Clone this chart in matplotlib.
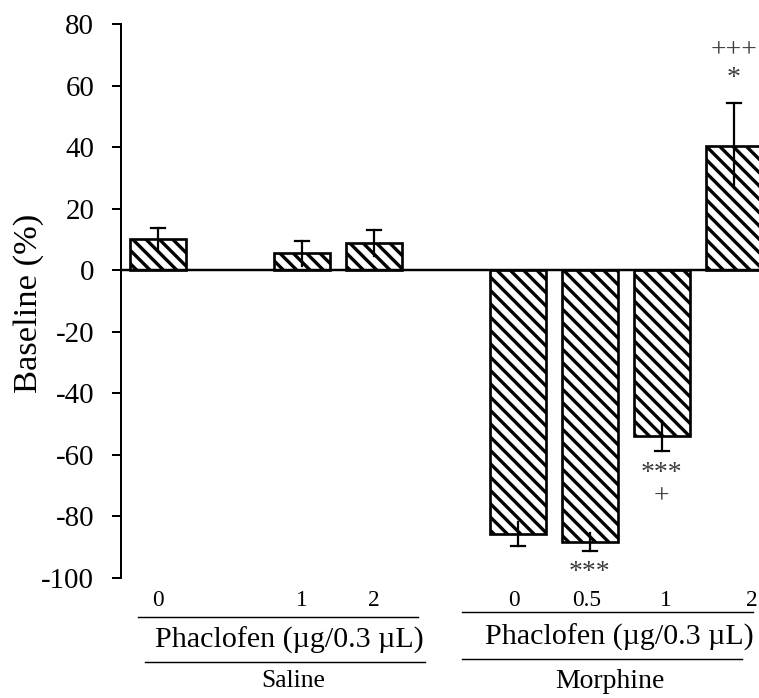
import matplotlib
matplotlib.use("Agg")
import matplotlib.pyplot as plt
from matplotlib.lines import Line2D

plt.rcParams['font.family'] = ['Liberation Serif', 'DejaVu Serif']
plt.rcParams['hatch.linewidth'] = 3.0

# Data
positions = [0, 2, 3, 5, 6, 7, 8]
values = [10.2, 5.5, 8.9, -85.7, -88.3, -53.8, 40.4]
errors = [3.6, 4.1, 4.2, 3.9, 2.8, 4.9, 13.8]
dose_labels = ['0', '1', '2', '0', '0.5', '1', '2']
dose_label_x = [0, 2, 3, 4.95, 5.95, 7.05, 8.25]
group_names = ['Saline', 'Morphine']
sub_title = 'Phaclofen (\u00b5g/0.3 \u00b5L)'
sig_marks = {6: ['***'], 7: ['***', '+'], 8: ['*', '+++']}
sig_offsets = {6: [9.2], 7: [9.6, 17.2], 8: [6.0, 14.8]}

DPI = 80
W, H = 759, 698
FS = 26
fig = plt.figure(figsize=(W / DPI, H / DPI), dpi=DPI)
ax = fig.add_axes([121 / W, 1 - 578 / H, (W - 121) / W, (578 - 24) / H])

ax.bar(positions, values, width=0.78, color='white', edgecolor='black',
       linewidth=2.4, hatch='\\\\', zorder=2)

# error bars: full line, cap only on the outer side
for x, v, e in zip(positions, values, errors):
    sgn = 1 if v >= 0 else -1
    ax.plot([x, x], [v - e, v + e], color='black', lw=2.0, zorder=3)
    ax.plot([x - 0.1, x + 0.1], [v + sgn * e, v + sgn * e], color='black', lw=2.0, zorder=3)

ax.axhline(0, color='black', lw=2.2, zorder=4)

ax.set_xlim(-0.51, 8.35)
ax.set_ylim(-100, 80)
ax.set_yticks(range(-100, 81, 20))
ax.set_yticklabels([str(t) for t in range(-100, 81, 20)], fontsize=FS)
ax.tick_params(axis='y', direction='out', length=8, width=1.8, pad=16)
ax.set_xticks([])
for s in ['top', 'right', 'bottom']:
    ax.spines[s].set_visible(False)
ax.spines['left'].set_linewidth(1.8)

# significance marks
for pos, marks in sig_marks.items():
    i = positions.index(pos)
    v, e = values[i], errors[i]
    sgn = 1 if v >= 0 else -1
    for m, off in zip(marks, sig_offsets[pos]):
        y = v + sgn * (e + off)
        ax.text(pos, y, m, ha='center', va='baseline', fontsize=25,
                color='#3a3a3a', clip_on=False)

# labels outside the axes (figure pixel coords)
def fx(px):
    return px / W

def fy(py):
    return 1 - py / H

def dx(xd):
    return ax.transData.transform((xd, 0))[0] / W

fig.text(fx(29), fy(303), 'Baseline (%)', rotation=90, ha='center', va='center',
         fontsize=31)

for xl, lab in zip(dose_label_x, dose_labels):
    fig.text(dx(xl), fy(600), lab, ha='center', va='center', fontsize=21)

# Saline block
fig.add_artist(Line2D([fx(138), fx(418)], [fy(617), fy(617)], color='black', lw=1.3))
fig.text(fx(289), fy(640), sub_title, ha='center', va='center', fontsize=27)
fig.add_artist(Line2D([fx(145), fx(425)], [fy(662), fy(662)], color='black', lw=1.3))
fig.text(fx(293), fy(681), group_names[0], ha='center', va='center', fontsize=23)

# Morphine block
fig.add_artist(Line2D([fx(462), fx(753)], [fy(612), fy(612)], color='black', lw=1.3))
fig.text(fx(619), fy(637), sub_title, ha='center', va='center', fontsize=27)
fig.add_artist(Line2D([fx(462), fx(742)], [fy(659), fy(659)], color='black', lw=1.3))
fig.text(fx(610), fy(681), group_names[1], ha='center', va='center', fontsize=25)

fig.savefig('out.png', dpi=DPI)
